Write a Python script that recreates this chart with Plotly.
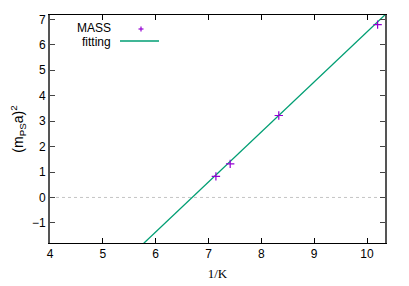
import plotly.graph_objects as go

# data
inv_kappa = [7.14, 7.41, 8.33, 10.20]
mps_a_sq = [0.83, 1.32, 3.22, 6.79]
fit_x = [5.50, 10.50]
fit_y = [-2.34, 7.49]
x_ticks = [4, 5, 6, 7, 8, 9, 10]
y_ticks = [-1, 0, 1, 2, 3, 4, 5, 6, 7]

PURPLE = "#9400d3"
GREEN = "#009e73"
FONT = "Liberation Sans, Arial, sans-serif"

# page body has an 8px default margin; compensate so the plot sits where the reference has it
OFF = 8
W, H = 409 - OFF, 286 - OFF
L, R, T, B = 50 - OFF, 24, 15 - OFF, 43
PW, PH = W - L - R, H - T - B


def px(x):
    return (x - OFF - L) / PW


def py(y):
    return 1 - (y - OFF - T) / PH


fig = go.Figure()
fig.add_trace(go.Scatter(x=fit_x, y=fit_y, mode="lines", name="fitting",
                         line=dict(color=GREEN, width=1.3), showlegend=False))
fig.add_trace(go.Scatter(x=inv_kappa, y=mps_a_sq, mode="markers", name="MASS",
                         marker=dict(symbol="cross-thin", size=6,
                                     line=dict(color=PURPLE, width=1.2)),
                         showlegend=False))

# dotted zero line
fig.add_shape(type="line", xref="paper", x0=0, x1=1, yref="y", y0=0, y1=0,
              line=dict(color="#c4c4c4", width=1, dash="dot"), layer="below")

# manual legend (text left, sample right, as in gnuplot)
fig.add_annotation(xref="paper", yref="paper", x=px(112), y=py(28),
                   text="MASS", showarrow=False, xanchor="right", yanchor="middle",
                   borderpad=0, font=dict(family=FONT, size=12, color="black"))
fig.add_annotation(xref="paper", yref="paper", x=px(112), y=py(42),
                   text="fitting", showarrow=False, xanchor="right", yanchor="middle",
                   borderpad=0, font=dict(family=FONT, size=12, color="black"))
fig.add_shape(type="line", xref="paper", yref="paper",
              x0=px(138.5), x1=px(143.5), y0=py(29), y1=py(29),
              line=dict(color=PURPLE, width=1.2))
fig.add_shape(type="line", xref="paper", yref="paper",
              x0=px(141), x1=px(141), y0=py(26.5), y1=py(31.5),
              line=dict(color=PURPLE, width=1.2))
fig.add_shape(type="line", xref="paper", yref="paper",
              x0=px(120), x1=px(159), y0=py(41), y1=py(41),
              line=dict(color=GREEN, width=1.3))

fig.update_layout(
    width=W, height=H,
    margin=dict(l=L, r=R, t=T, b=B),
    paper_bgcolor="white", plot_bgcolor="white",
    font=dict(family=FONT, size=12, color="black"),
    xaxis=dict(range=[4, 10.34], tickvals=x_ticks, ticks="inside", ticklen=5,
               tickcolor="black", showline=True, linecolor="black", linewidth=1,
               mirror="ticks", showgrid=False, zeroline=False, automargin=False,
               title=dict(text="1/K", font=dict(family="Liberation Serif, serif", size=13),
                          standoff=8)),
    yaxis=dict(range=[-1.79, 7.17], tickvals=y_ticks, ticks="inside", ticklen=5,
               tickcolor="#444", showline=True, linecolor="#555", linewidth=2,
               mirror="ticks", showgrid=False, zeroline=False, automargin=False,
               title=dict(text="(m<sub>PS</sub>a)<sup>2</sup>", standoff=10)),
)

fig.write_html("out.html")
